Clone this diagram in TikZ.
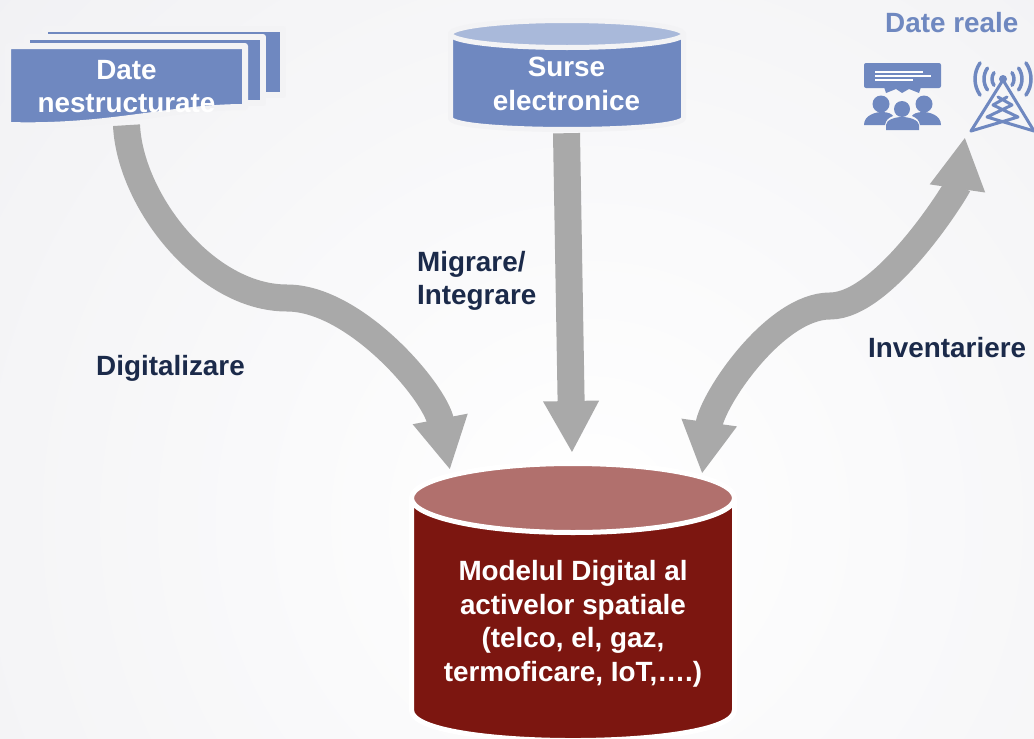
\documentclass[tikz,border=0pt]{standalone}
\usepackage{fontspec}
\setmainfont{Liberation Sans}
\usetikzlibrary{arrows.meta, positioning}
\definecolor{blueface}{HTML}{6F88C0}
\definecolor{bluetop}{HTML}{A9B9DA}
\definecolor{redface}{HTML}{7C1610}
\definecolor{redtop}{HTML}{B1706D}
\definecolor{flowgray}{HTML}{A9A9A9}
\definecolor{navytext}{HTML}{1B2A4A}
\definecolor{softrim}{HTML}{F3F3F5}
\definecolor{bgouter}{HTML}{E5E5EA}

\begin{document}
\begin{tikzpicture}[x=1pt,y=-1pt,
	bigfont/.style={font=\fontsize{27.85}{33.5}\selectfont\bfseries},
	sheet/.style={draw=softrim,line width=6pt,fill=blueface,line join=round},
	whitetext/.style={bigfont,text=white,align=center,inner sep=0pt},
	darklabel/.style={bigfont,text=navytext,align=left,inner sep=0pt},
	drumrim/.style={line width=5pt,line join=round},
	flow/.style={draw=flowgray,line width=27pt},
	flowhead/.tip={Triangle[width=52pt,length=52pt]},
	icon/.style={fill=blueface,draw=none},
	iconline/.style={draw=blueface,line width=3pt,line cap=round,line join=round}]
	\useasboundingbox (0,0) rectangle (1034,739);
	
	% background
	\begin{scope}
		\clip (0,0) rectangle (1034,739);
		\shade[inner color=white,outer color=bgouter] (590,520) circle (1500);
	\end{scope}
	
	% stacked sheets
	\draw[sheet] (45,29) -- (283,29) -- (283,95) -- (45,95) -- cycle;
	\draw[sheet] (27,37) -- (263,37) -- (263,103) -- (27,103) -- cycle;
	\draw[sheet] (8,46) -- (245,46) -- (245,107) .. controls (170,107) and (110,128) .. (8,125) -- cycle;
	\node[whitetext,minimum height=77pt] (docs) at (126.5,86.5) {Date\\nestructurate};
	
	% source drum
	\draw[drumrim,draw=softrim,fill=blueface] (450.5,34) -- (450.5,118)
		.. controls (450.5,133.3) and (683.5,133.3) .. (683.5,118) -- (683.5,34) -- cycle;
	\draw[drumrim,draw=softrim,fill=bluetop] (567,34) ellipse (116.5 and 13.5);
	\node[whitetext,minimum height=98pt] (surse) at (566.5,84) {Surse\\electronice};
	
	% target drum
	\draw[drumrim,draw=white,fill=redface] (411.5,498) -- (411.5,710)
		.. controls (411.5,750.7) and (734.5,750.7) .. (734.5,710) -- (734.5,498) -- cycle;
	\draw[drumrim,draw=white,fill=redtop] (573,498) ellipse (161.5 and 34.5);
	\node[whitetext,minimum height=230pt] (model) at (573,624)
		{Modelul Digital al\\activelor spatiale\\(telco, el, gaz,\\termoficare, IoT,….)};
	
	% labels
	\node[darklabel,anchor=base west] (digital) at (96,375) {Digitalizare};
	\node[darklabel,anchor=west] (migrare) at (417,281) {Migrare/\\Integrare};
	\node[darklabel,anchor=base west] (invent) at (868,357) {Inventariere};
	\node[bigfont,text=blueface,inner sep=0pt,anchor=base west] (reale) at (885,32) {Date reale};
	
	% audience icon
	\fill[icon,rounded corners=2pt] (864,63) rectangle (941,88);
	\fill[icon] (884,87) -- (886,93) -- (896,89) -- (902,93) -- (909,89) -- (919,93) -- (921,87) -- cycle;
	\foreach \lineend/\liney in {923/72,931/76,913/80}
		\draw[white,line width=1.3pt] (875,\liney) -- (\lineend,\liney);
	\fill[icon] (881,104) circle (8.5);
	\fill[icon] (924,104) circle (8.5);
	\fill[icon] (864,125) .. controls (864,115) and (876,112) .. (882,112) .. controls (888,112) and (892,114) .. (893,116) .. controls (888,118) and (886,120) .. (885,125) -- cycle;
	\fill[icon] (941,125) .. controls (941,115) and (929,112) .. (923,112) .. controls (917,112) and (913,114) .. (912,116) .. controls (917,118) and (919,120) .. (920,125) -- cycle;
	\fill[icon] (902,109) circle (8);
	\fill[icon] (886,130) -- (886,125) .. controls (886,120) and (895,117) .. (902,117) .. controls (909,117) and (919,120) .. (919,125) -- (919,130) -- cycle;
	
	% tower icon
	\fill[icon] (1003,79) circle (4);
	\draw[iconline] (1003,80) -- (971,131) (1003,80) -- (1034,131);
	\draw[iconline] (971,131) -- (1018,117) -- (993,105) -- (1007,97)
		(1034,131) -- (987,117) -- (1012,105) -- (998,97);
	\foreach \arcr in {11,19,28}{
		\draw[iconline,line width=3.5pt] ([shift={(-35:\arcr)}]1003,79) arc (-35:35:\arcr);
		\draw[iconline,line width=3.5pt] ([shift={(145:\arcr)}]1003,79) arc (145:215:\arcr);
	}
	
	% ends of the flows
	\coordinate (bendleft) at (287,298);
	\coordinate (modelleft) at (450,470);
	\coordinate (modelmid) at (572,453);
	\coordinate (modelright) at (702,474);
	\coordinate (bendright) at (830,306);
	\coordinate (towerend) at (965,137);
	
	\draw[flow,-flowhead] (docs.south) .. controls (130,200) and (205,298) .. (bendleft)
		.. controls (355,298) and (435,392) .. (modelleft);
	\draw[flow,-flowhead] (surse.south) -- (modelmid);
	\draw[flow,flowhead-flowhead] (modelright) .. controls (712.5,399) and (775,306) .. (bendright)
		.. controls (885,306) and (957.5,188) .. (towerend);
	
\end{tikzpicture}
\end{document}
